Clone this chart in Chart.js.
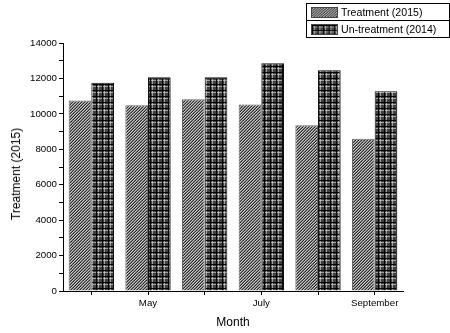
<!DOCTYPE html>
<html>
<head>
<meta charset="utf-8">
<script src="https://cdn.jsdelivr.net/npm/chart.js@4"></script>
<style>
  html, body { margin: 0; padding: 0; background: #fff; }
  #wrap { position: relative; width: 450px; height: 333px; }
  #legend {
    position: absolute; left: 306px; top: 3px; width: 142px;
    border: 1px solid #000; background: #fff;
    font: 10.6px "Liberation Sans", Arial, sans-serif; color: #000;
  }
  #legend .row { display: flex; align-items: center; height: 16px; padding-left: 4px; }
  #legend .row + .row { border-top: 1px solid #000; }
  #legend canvas { width: 27px; height: 11px; margin-right: 3px; box-sizing: border-box; border: 1px solid #444; }
  #ytitle {
    position: absolute; left: 16px; top: 174px; white-space: nowrap;
    transform: translate(-50%, -50%) rotate(-90deg);
    font: 12px "Liberation Sans", Arial, sans-serif; color: #000;
  }
</style>
</head>
<body>
<div id="wrap">
  <canvas id="chart" width="450" height="333"></canvas>
  <div id="legend"></div>
  <div id="ytitle">Treatment (2015)</div>
</div>
<script>
// data
const months = ['April', 'May', 'June', 'July', 'August', 'September'];
const shownMonths = ['May', 'July', 'September'];
const treatment2015 = [10750, 10480, 10820, 10530, 9360, 8600];
const untreatment2014 = [11750, 12060, 12060, 12860, 12460, 11280];
const seriesNames = ['Treatment (2015)', 'Un-treatment (2014)'];

const FONT = '"Liberation Sans", Arial, sans-serif';

// pixel patterns: diagonal hatch and dark plaid
function makeTile(size, pick) {
  const c = document.createElement('canvas');
  c.width = size; c.height = size;
  const g = c.getContext('2d');
  const img = g.createImageData(size, size);
  for (let y = 0; y < size; y++) {
    for (let x = 0; x < size; x++) {
      const v = pick(x, y);
      const i = (y * size + x) * 4;
      img.data[i] = img.data[i + 1] = img.data[i + 2] = v;
      img.data[i + 3] = 255;
    }
  }
  g.putImageData(img, 0, 0);
  return c;
}
const hatchTile = makeTile(3, (x, y) => [40, 200, 125][(x + y) % 3]);
const plaidTile = makeTile(6, (x, y) => {
  if (x === 0 || y === 0) return 5;
  if (x === 2 || y === 2) return (x === 2 && y === 2) ? 200 : 160;
  return 65;
});

const ctx = document.getElementById('chart').getContext('2d');
const hatch = ctx.createPattern(hatchTile, 'repeat');
const plaid = ctx.createPattern(plaidTile, 'repeat');

new Chart(ctx, {
  type: 'bar',
  data: {
    labels: months,
    datasets: [
      { label: seriesNames[0], data: treatment2015, backgroundColor: hatch, borderColor: '#666', borderWidth: 1 },
      { label: seriesNames[1], data: untreatment2014, backgroundColor: plaid, borderColor: '#111', borderWidth: 1 },
    ],
  },
  options: {
    responsive: false,
    animation: false,
    events: [],
    layout: { padding: { top: 43, right: 47, left: 0, bottom: 0 } },
    datasets: { bar: { categoryPercentage: 0.8, barPercentage: 1.0 } },
    plugins: { legend: { display: false }, tooltip: { enabled: false } },
    scales: {
      x: {
        afterFit: (s) => { s.height = 42; },
        border: { color: '#000', width: 1 },
        grid: { display: true, offset: false, drawOnChartArea: false, color: '#000', tickLength: 4 },
        ticks: {
          autoSkip: false, maxRotation: 0, padding: 3, color: '#000',
          font: { family: FONT, size: 9.7 },
          callback: (v, i) => (shownMonths.includes(months[i]) ? months[i] : ''),
        },
        title: { display: true, text: 'Month', color: '#000', font: { family: FONT, size: 12 }, padding: { top: 0, bottom: 3 } },
      },
      y: {
        min: 0, max: 14000,
        afterFit: (s) => { s.width = 63; },
        border: { color: '#000', width: 1 },
        grid: { display: true, drawOnChartArea: false, color: '#000', tickLength: 4 },
        ticks: {
          stepSize: 1000, padding: 2, color: '#000',
          font: { family: FONT, size: 9.7 },
          callback: (v) => (v % 2000 === 0 ? v : ''),
        },
        title: { display: false },
      },
    },
  },
});

// legend
const legend = document.getElementById('legend');
[hatchTile, plaidTile].forEach((tile, i) => {
  const row = document.createElement('div');
  row.className = 'row';
  const sw = document.createElement('canvas');
  sw.width = 27; sw.height = 11;
  const g = sw.getContext('2d');
  g.fillStyle = g.createPattern(tile, 'repeat');
  g.fillRect(0, 0, 27, 11);
  const txt = document.createElement('span');
  txt.textContent = seriesNames[i];
  row.appendChild(sw);
  row.appendChild(txt);
  legend.appendChild(row);
});
</script>
</body>
</html>
